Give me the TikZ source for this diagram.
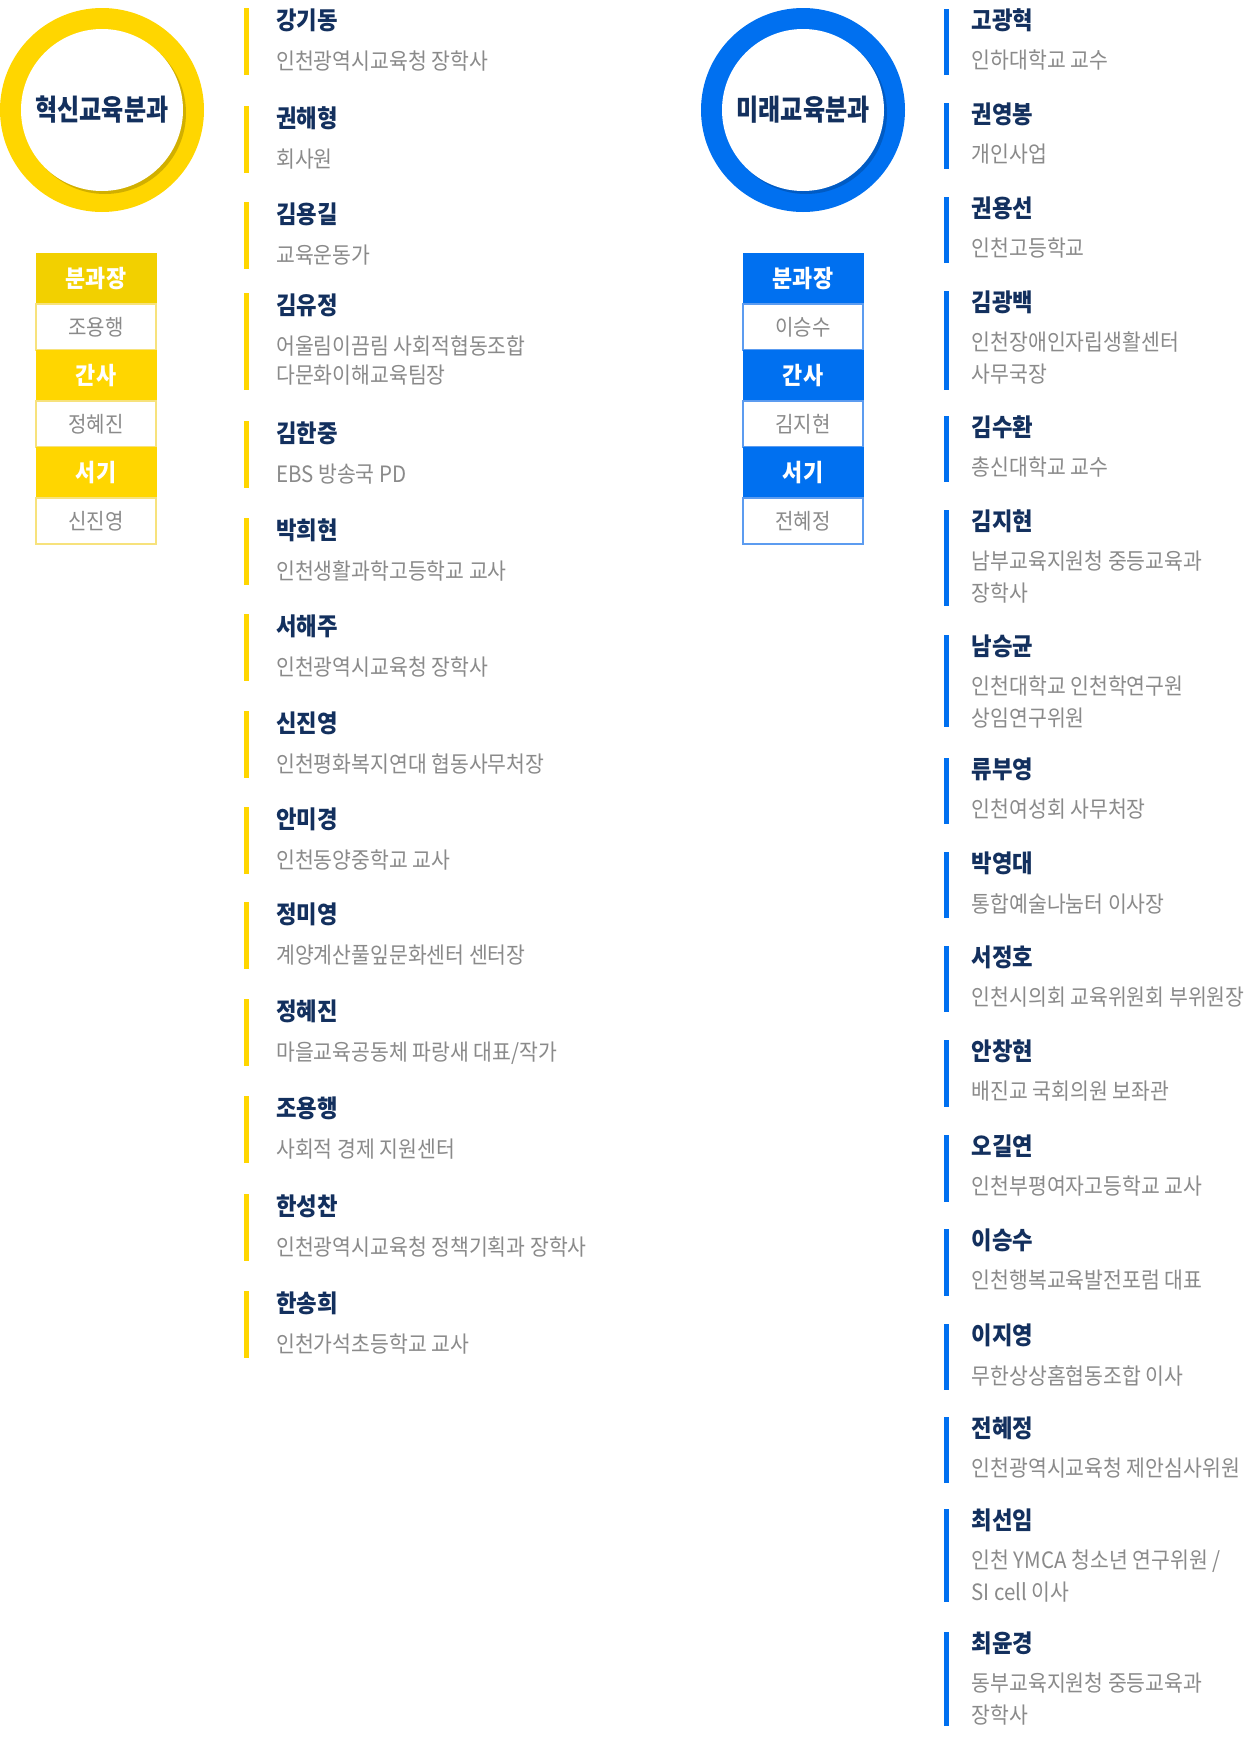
\documentclass[tikz,border=0pt]{standalone}
\usepackage{fontspec}
\newfontfamily\krfont{Noto Sans CJK KR}[FakeStretch=0.91]
\newfontfamily\krtitle{Noto Sans CJK KR}[FakeStretch=0.83]
\usetikzlibrary{positioning, shadows}
\definecolor{innov}     {HTML}{FFD600}
\definecolor{innovdark} {HTML}{F2D000}
\definecolor{innovline} {HTML}{F7E27C}
\definecolor{future}    {HTML}{0070F0}
\definecolor{futureline}{HTML}{5C9CF0}
\definecolor{navy}      {HTML}{13305E}
\definecolor{memo}      {HTML}{8A8A8A}
\tikzset{
  ring/.style={circle, fill=#1, minimum size=204pt, inner sep=0pt},
  disc/.style={circle, fill=white, minimum size=162pt, inner sep=0pt, text=navy,
    font=\krtitle\bfseries\fontsize{29}{32}\selectfont,
    drop shadow={shadow xshift=3pt, shadow yshift=-3pt, fill=black, opacity=.18}},
  role/.style={fill=#1, draw=#1, text=white, font=\krfont\bfseries\fontsize{24}{28}\selectfont,
    minimum width=120pt, minimum height=51pt, inner sep=0pt, outer sep=0pt},
  held/.style={fill=white, draw=#1, line width=1.2pt, text=memo, font=\krfont\fontsize{22}{28}\selectfont,
    minimum width=120pt, minimum height=46pt, inner sep=0pt, outer sep=0pt},
  bar/.style={fill=#1, minimum width=5pt, inner sep=0pt, anchor=north},
  who/.style={anchor=base west, inner sep=0pt, text=navy, font=\krfont\bfseries\fontsize{24.5}{28}\selectfont},
  what/.style={anchor=north west, inner sep=0pt, align=left, text=memo, font=\krfont\fontsize{22.5}{#1}\selectfont}
}
\begin{document}
\begin{tikzpicture}[x=1pt, y=-1pt]
  \useasboundingbox[fill=white] (0,0) rectangle (1244,1738);

  % 혁신교육분과
  \node[ring=innov] (innovring) at (102,110) {};
  \node[disc] (innovtitle) at (innovring.center) {혁신교육분과};
  \foreach \role/\who/\c [count=\i] in {분과장/조용행/innovdark, 간사/정혜진/innov, 서기/신진영/innov}{
    \node[role=\c] (innovrole\i) at (96,{253+97*(\i-1)+25.5}) {\role};
    \node[held=innovline, below=0pt of innovrole\i] (innovheld\i) {\who};
  }
  \foreach \y/\h/\n/\t [count=\i] in
    {8/67/강기동/인천광역시교육청 장학사,
     106/67/권해형/회사원,
     202/67/김용길/교육운동가,
     293/97/김유정/{어울림이끔림 사회적협동조합\\다문화이해교육팀장},
     421/67/김한중/EBS 방송국 PD,
     518/67/박희현/인천생활과학고등학교 교사,
     614/67/서해주/인천광역시교육청 장학사,
     711/67/신진영/인천평화복지연대 협동사무처장,
     807/67/안미경/인천동양중학교 교사,
     902/67/정미영/계양계산풀잎문화센터 센터장,
     999/67/정혜진/{마을교육공동체 파랑새 대표/작가},
     1096/67/조용행/사회적 경제 지원센터,
     1194/67/한성찬/인천광역시교육청 정책기획과 장학사,
     1291/67/한송희/인천가석초등학교 교사}{
    \node[bar=innov, minimum height=\h] (innovbar\i) at (246.5,\y) {};
    \node[who] (innovname\i) at (276,\y+21) {\n};
    \node[what=28.5] (innovnote\i) at (276,\y+43) {\t};
  }

  % 미래교육분과
  \node[ring=future] (futurering) at (803,110) {};
  \node[disc] (futuretitle) at (futurering.center) {미래교육분과};
  \foreach \role/\who [count=\i] in {분과장/이승수, 간사/김지현, 서기/전혜정}{
    \node[role=future] (futurerole\i) at (803,{253+97*(\i-1)+25.5}) {\role};
    \node[held=futureline, below=0pt of futurerole\i] (futureheld\i) {\who};
  }
  \foreach \y/\h/\n/\t [count=\i] in
    {9/66/고광혁/인하대학교 교수,
     103/66/권영봉/개인사업,
     197/66/권용선/인천고등학교,
     291/99/김광백/{인천장애인자립생활센터\\사무국장},
     416/66/김수환/총신대학교 교수,
     510/96/김지현/{남부교육지원청 중등교육과\\장학사},
     635/92/남승균/{인천대학교 인천학연구원\\상임연구위원},
     758/66/류부영/인천여성회 사무처장,
     852/66/박영대/통합예술나눔터 이사장,
     946/66/서정호/인천시의회 교육위원회 부위원장,
     1040/67/안창현/배진교 국회의원 보좌관,
     1135/67/오길연/인천부평여자고등학교 교사,
     1229/67/이승수/인천행복교육발전포럼 대표,
     1324/66/이지영/무한상상홈협동조합 이사,
     1417/66/전혜정/인천광역시교육청 제안심사위원,
     1509/93/최선임/{인천 YMCA 청소년 연구위원 /\\SI cell 이사},
     1632/94/최윤경/{동부교육지원청 중등교육과\\장학사}}{
    \node[bar=future, minimum height=\h] (futurebar\i) at (946.5,\y) {};
    \node[who] (futurename\i) at (971.5,\y+20) {\n};
    \node[what=31.5] (futurenote\i) at (971.5,\y+41) {\t};
  }
\end{tikzpicture}
\end{document}
